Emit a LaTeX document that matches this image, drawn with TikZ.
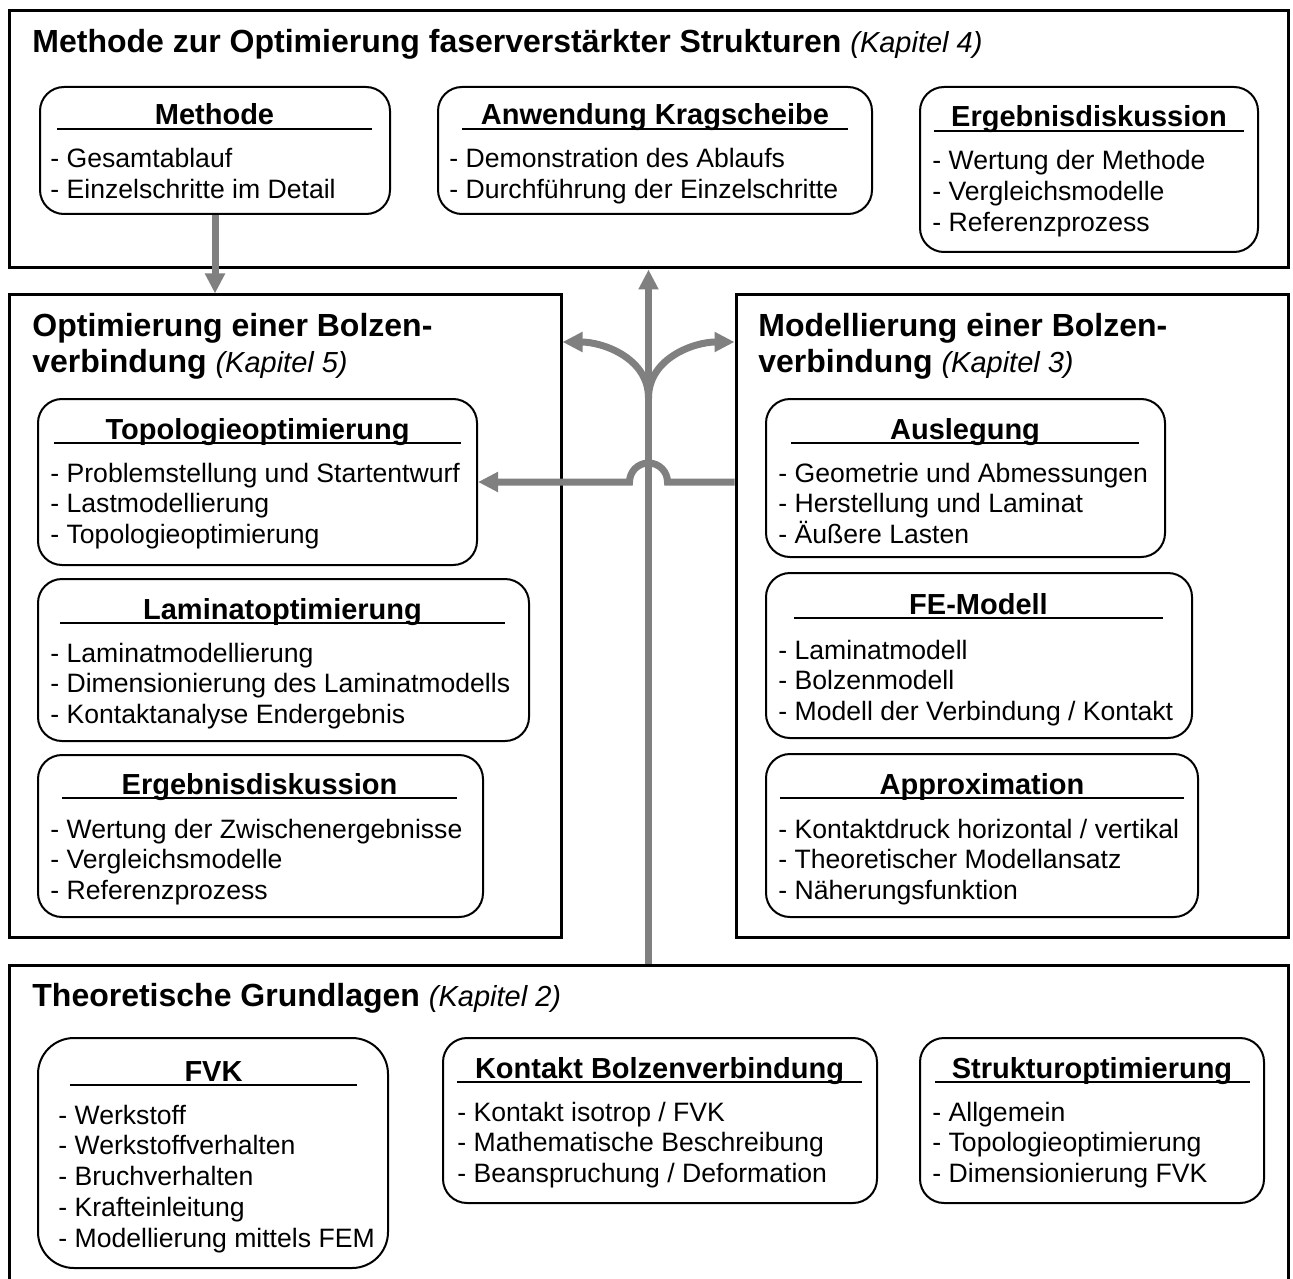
\documentclass[tikz,border=0pt]{standalone}
\usepackage{fontspec}
\setmainfont{Liberation Sans}
\usepackage{tikz}
\usetikzlibrary{arrows.meta, fit}
\definecolor{flowgray}{RGB}{128,128,128}
\newcommand{\kap}[1]{{\normalfont\itshape\fontsize{14.5}{18}\selectfont #1}}

\begin{document}
\begin{tikzpicture}[x=0.5pt, y=-0.5pt, every node/.style={font=\fontsize{13.3}{15.5}\selectfont}]
\tikzset{
  bigbox/.style={draw, line width=1.5pt, inner sep=0},
  rbox/.style={draw, line width=1pt, rounded corners=12pt, inner sep=0},
  head/.style={anchor=base west, inner sep=0, font=\bfseries\fontsize{16}{18}\selectfont},
  ttl/.style={anchor=base, inner sep=0, font=\bfseries\fontsize{14.5}{17}\selectfont},
  item/.style={anchor=base west, inner sep=0},
  uline/.style={line width=1.2pt},
  flow/.style={draw=flowgray, line width=3.5pt, -{Triangle[length=10pt,width=9.5pt]}}
}
\useasboundingbox (0,0) rectangle (1293,1278);
% --- Kapitel 4: Methode ---
\node[bigbox, fit={(9,11) (1288,268)}] (kap4) {};
\node[head] (kap4T) at (32,53) {Methode zur Optimierung faserverstärkter Strukturen \kap{(Kapitel 4)}};
\node[rbox, fit={(40,87) (390,214)}] (meth) {};
\node[ttl] (methT) at (214.5,125) {Methode};
\draw[uline] (57,129) -- (372,129);
\foreach \entry [count=\i from 0] in {Gesamtablauf, Einzelschritte im Detail}
  \node[item] (meth-\i) at (50,{168+30.8*\i}) {- \entry};
\node[rbox, fit={(438,87) (872,214)}] (anw) {};
\node[ttl] (anwT) at (655,125) {Anwendung Kragscheibe};
\draw[uline] (462,129) -- (848,129);
\foreach \entry [count=\i from 0] in {Demonstration des Ablaufs, Durchführung der Einzelschritte}
  \node[item] (anw-\i) at (449,{168+30.8*\i}) {- \entry};
\node[rbox, fit={(920,87) (1258,252)}] (erg4) {};
\node[ttl] (erg4T) at (1089,127) {Ergebnisdiskussion};
\draw[uline] (934,131) -- (1244,131);
\foreach \entry [count=\i from 0] in {Wertung der Methode, Vergleichsmodelle, Referenzprozess}
  \node[item] (erg4-\i) at (932,{170+30.8*\i}) {- \entry};
% --- Kapitel 5: Optimierung ---
\node[bigbox, fit={(9,295) (561,937)}] (opt) {};
\node[head] (optT) at (32,336) {Optimierung einer Bolzen-};
\node[head] (optT2) at (32,372) {verbindung \kap{(Kapitel 5)}};
\node[rbox, fit={(38,399) (477,565)}] (topo) {};
\node[ttl] (topoT) at (257.5,439) {Topologieoptimierung};
\draw[uline] (54,443) -- (461,443);
\foreach \entry [count=\i from 0] in {Problemstellung und Startentwurf, Lastmodellierung, Topologieoptimierung}
  \node[item] (topo-\i) at (50,{482+30.8*\i}) {- \entry};
\node[rbox, fit={(38,579) (529,741)}] (lam) {};
\node[ttl] (lamT) at (282.5,619) {Laminatoptimierung};
\draw[uline] (60,623) -- (505,623);
\foreach \entry [count=\i from 0] in {Laminatmodellierung, Dimensionierung des Laminatmodells, Kontaktanalyse Endergebnis}
  \node[item] (lam-\i) at (50,{662+30.8*\i}) {- \entry};
\node[rbox, fit={(38,755) (483,917)}] (erg5) {};
\node[ttl] (erg5T) at (259.5,794) {Ergebnisdiskussion};
\draw[uline] (62,798) -- (457,798);
\foreach \entry [count=\i from 0] in {Wertung der Zwischenergebnisse, Vergleichsmodelle, Referenzprozess}
  \node[item] (erg5-\i) at (50,{838+30.8*\i}) {- \entry};
% --- Kapitel 3: Modellierung ---
\node[bigbox, fit={(736,295) (1288,937)}] (mod) {};
\node[head] (modT) at (758,336) {Modellierung einer Bolzen-};
\node[head] (modT2) at (758,372) {verbindung \kap{(Kapitel 3)}};
\node[rbox, fit={(766,399) (1165,557)}] (ausl) {};
\node[ttl] (auslT) at (965,439) {Auslegung};
\draw[uline] (791,443) -- (1139,443);
\foreach \entry [count=\i from 0] in {Geometrie und Abmessungen, Herstellung und Laminat, Äußere Lasten}
  \node[item] (ausl-\i) at (778,{482+30.8*\i}) {- \entry};
\node[rbox, fit={(766,573) (1192,738)}] (fem) {};
\node[ttl] (femT) at (978.5,614) {FE-Modell};
\draw[uline] (794,618) -- (1163,618);
\foreach \entry [count=\i from 0] in {Laminatmodell, Bolzenmodell, Modell der Verbindung / Kontakt}
  \node[item] (fem-\i) at (778,{659+30.8*\i}) {- \entry};
\node[rbox, fit={(766,754) (1198,917)}] (appr) {};
\node[ttl] (apprT) at (982,794) {Approximation};
\draw[uline] (780,798) -- (1184,798);
\foreach \entry [count=\i from 0] in {Kontaktdruck horizontal / vertikal, Theoretischer Modellansatz, Näherungsfunktion}
  \node[item] (appr-\i) at (778,{838+30.8*\i}) {- \entry};
% --- Kapitel 2: Grundlagen ---
\node[bigbox, fit={(9,965) (1288,1310)}] (grund) {};
\node[head] (grundT) at (32,1006) {Theoretische Grundlagen \kap{(Kapitel 2)}};
\node[rbox, rounded corners=18pt, fit={(38,1038) (388,1268)}] (fvk) {};
\node[ttl] (fvkT) at (213.5,1081) {FVK};
\draw[uline] (70,1085) -- (357,1085);
\foreach \entry [count=\i from 0] in {Werkstoff, Werkstoffverhalten, Bruchverhalten, Krafteinleitung, Modellierung mittels FEM}
  \node[item] (fvk-\i) at (58,{1124+30.9*\i}) {- \entry};
\node[rbox, fit={(443,1038) (877,1203)}] (kont) {};
\node[ttl] (kontT) at (659.5,1078) {Kontakt Bolzenverbindung};
\draw[uline] (457,1082) -- (862,1082);
\foreach \entry [count=\i from 0] in {Kontakt isotrop / FVK, Mathematische Beschreibung, Beanspruchung / Deformation}
  \node[item] (kont-\i) at (457,{1121+30.8*\i}) {- \entry};
\node[rbox, fit={(920,1038) (1264,1203)}] (struk) {};
\node[ttl] (strukT) at (1092,1078) {Strukturoptimierung};
\draw[uline] (935,1082) -- (1250,1082);
\foreach \entry [count=\i from 0] in {Allgemein, Topologieoptimierung, Dimensionierung FVK}
  \node[item] (struk-\i) at (932,{1121+30.8*\i}) {- \entry};
% --- Pfeile ---
\coordinate (split) at (648.5,398);
\coordinate (branch) at (648.5,342);
\coordinate (hop) at (648.5,482);
\draw[flow] (meth.south) -- (meth.south |- opt.north);
\draw[flow] (grund.north) -- (kap4.south);
\draw[flow] (split) to[out=90, in=0] (opt.east |- branch);
\draw[flow] (split) to[out=90, in=180] (mod.west |- branch);
\draw[flow] (mod.west |- hop) -- ([xshift=9.5pt]hop) arc[start angle=0, end angle=180, radius=9.5pt] -- (topo.east |- hop);
\end{tikzpicture}
\end{document}
